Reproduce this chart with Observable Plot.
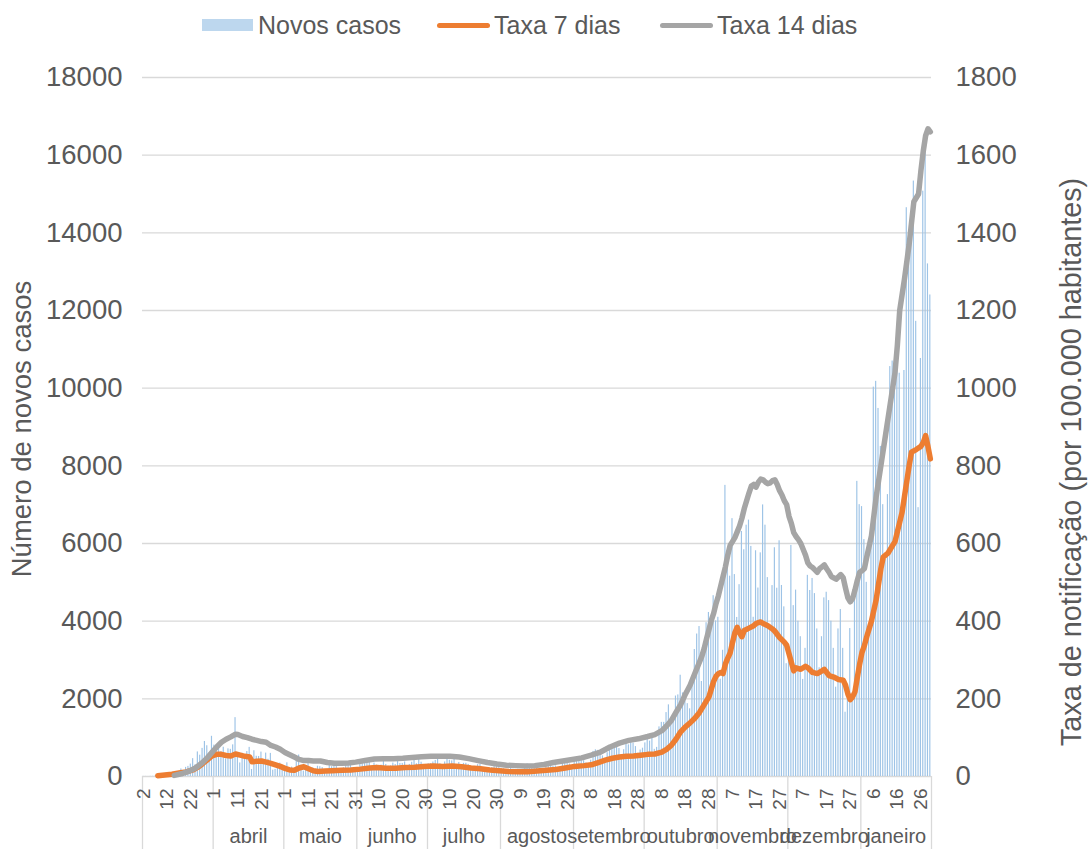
<!DOCTYPE html>
<html>
<head>
<meta charset="utf-8">
<script src="https://cdn.jsdelivr.net/npm/d3@7"></script>
<script src="https://cdn.jsdelivr.net/npm/@observablehq/plot@0.6"></script>
<style>
  html, body { margin: 0; padding: 0; background: #fff; }
  #wrap { position: relative; width: 1089px; height: 849px; overflow: hidden; font-family: 'Liberation Sans', Arial, sans-serif; color: #595959; }
  #legend { position: relative; width: 1089px; height: 50px; }
  .lg-item { position: absolute; top: 0; height: 50px; display: flex; align-items: center; font-size: 25px; white-space: nowrap; }
  .sw-rect { width: 51px; height: 12px; background: #bdd7ee; margin-right: 5px; }
  .sw-line { width: 53px; height: 5px; border-radius: 3px; margin-right: 4px; }
</style>
</head>
<body>
<div id="wrap">
  <div id="legend"></div>
  <div id="chart"></div>
</div>
<script>
// ---- Data ----
// Daily new cases, 2 March 2020 .. 30 January 2021
const casesMar = [2,2,1,4,4,8,9,9,11,18,19,34,57,76,86,117,194,143,235,260,320,460,302,633,549,724,902,792,446,1035];
const casesApr = [808,783,852,638,754,452,712,699,815,1516,598,349,598,514,643,750,181,663,521,516,629,371,603,444,595,163,183,295,345,235];
const casesMai = [181,352,92,242,171,533,553,295,138,226,349,160,219,187,264,252,230,117,149,295,252,288,271,163,205,227,304,350,296,195,200];
const casesJun = [193,366,350,331,377,382,192,346,294,282,294,421,310,264,272,346,308,417,336,337,375,259,311,367,451,328,457,368,266,311];
const casesJul = [328,329,374,413,443,328,285,375,444,418,402,443,232,361,304,339,340,312,225,194,252,305,311,227,209,135,88,232,297,278,233];
const casesAgo = [204,197,106,140,213,187,182,186,135,109,203,325,278,290,228,253,120,165,158,320,259,301,259,273,212,254,396,402,362,322,256];
const casesSet = [360,400,395,420,405,350,240,420,646,687,673,620,530,390,613,770,780,830,760,720,560,690,899,815,880,860,770,600,681,729];
const casesOut = [865,963,911,1090,700,750,1278,1394,1394,1646,1845,1445,1549,2072,2101,2608,2153,1949,1876,1743,2535,3270,3669,3862,2447,3162,3960,4224,4085,4656,4007];
const casesNov = [4100,2506,3250,7497,5550,5159,6640,5200,4096,4940,6310,5839,6472,6602,5925,4100,5813,4853,5759,6994,6472,5122,3817,4916,5891,4849,6070,4919,4369,2905];
const casesDez = [3300,5950,4400,4800,4000,3600,2500,3300,5180,4790,5100,4710,3800,2800,3600,4600,4745,4530,4000,3300,2300,3800,4300,3300,1655,2300,3810,2000,4900,7600,7000];
const casesJan = [6950,6100,5000,3850,6500,10027,10176,9478,8500,7000,5600,7259,10556,10698,10663,10947,10385,6702,10455,14647,13544,13987,15333,11721,6923,10765,15073,16432,13200,12400];

// Notification rates per 100 000 inhabitants (day offset from 2 March 2020 -> value)
const rate7Day = [6,9,12,15,18,21,23,25,27,29,31,33,35,37,39,41,43,45,46,48,50,52,54,56,58,60,62,64,66,68,70,72,74,77,80,84,88,92,96,99,103,107,111,115,119,123,127,131,135,139,143,147,151,155,159,163,167,171,175,179,183,187,190,193,196,199,202,205,208,211,214,217,220,222,224,226,228,230,232,234,236,238,240,241,242,243,244,245,246,247,248,249,250,251,252,253,254,255,257,259,260,261,262,263,265,267,268,270,272,273,274,276,277,279,281,282,284,286,288,289,291,293,295,297,298,299,300,301,302,303,304,305,306,307,309,311,313,314,316,318,319,320,322,323,325,326,328,330,331,332,333,334];
const rate7 = [2,4,6,9,12,17,24,33,43,53,57,57,54,53,58,55,52,50,38,39,40,37,34,30,26,21,17,16,22,25,20,15,13,14,15,16,17,19,22,23,21,21,23,24,26,27,26,27,25,22,20,17,15,13,12,12,14,16,18,22,26,28,30,36,42,47,50,52,53,55,57,58,63,70,80,96,115,128,138,150,165,185,205,225,245,258,265,268,265,290,305,318,345,370,384,370,360,376,382,388,394,396,398,394,388,380,374,358,346,338,316,272,280,276,284,280,268,265,272,276,260,256,250,248,235,212,198,205,218,255,290,320,337,360,400,455,535,565,575,595,605,630,680,720,800,835,842,850,860,878,850,818];
const rate14Day = [13,16,19,22,25,27,29,31,33,35,37,39,40,42,44,46,48,50,52,54,56,58,60,62,64,66,68,70,72,75,78,81,84,87,90,94,98,102,106,110,114,118,122,126,130,134,138,142,146,150,154,158,162,166,170,174,178,182,186,190,194,198,202,206,210,214,217,220,222,224,226,228,230,232,234,236,237,238,239,240,241,242,243,244,245,246,247,248,249,250,251,252,253,254,255,256,257,258,259,260,261,262,263,264,265,266,267,268,269,270,271,272,273,274,275,276,277,278,279,280,281,282,283,284,285,286,287,288,289,290,291,292,294,296,297,298,299,300,301,302,303,304,305,306,307,309,311,313,315,317,319,320,321,323,325,327,329,330,331,332,333,334];
const rate14 = [3,7,13,22,36,48,62,76,88,96,102,109,108,103,100,96,93,90,88,80,76,70,62,56,50,44,41,41,40,40,36,34,34,35,37,41,45,46,46,47,49,51,52,52,52,50,46,41,36,32,29,28,27,28,31,36,40,44,48,55,63,76,86,93,97,103,108,118,130,144,165,185,212,235,265,295,310,330,355,378,402,420,445,465,490,515,540,570,595,605,615,630,645,665,690,710,730,748,752,745,758,766,764,758,754,756,762,764,752,736,725,710,700,670,652,628,618,610,600,585,570,550,542,538,532,526,535,540,545,535,526,515,508,520,512,485,460,450,458,480,505,526,530,535,565,620,720,800,880,960,1040,1110,1200,1280,1370,1480,1500,1560,1610,1650,1668,1660];

const monthLabels = ["", "abril", "maio", "junho", "julho", "agosto", "setembro", "outubro", "novembro", "dezembro", "janeiro"];
const yTicks = [0,2000,4000,6000,8000,10000,12000,14000,16000,18000];
const seriesNames = ["Novos casos", "Taxa 7 dias", "Taxa 14 dias"];
const leftTitle = "Número de novos casos";
const rightTitle = "Taxa de notificação (por 100.000 habitantes)";

// ---- Build tables ----
const FONT = "'Liberation Sans', Arial, sans-serif";
const TEXT = "#595959";
const start = new Date(Date.UTC(2020, 2, 2));
const cases = [].concat(casesMar, casesApr, casesMai, casesJun, casesJul, casesAgo, casesSet, casesOut, casesNov, casesDez, casesJan);
const days = cases.map((c, i) => ({i, date: d3.utcDay.offset(start, i), cases: c}));
const n = days.length;
const r7 = rate7Day.map((d, k) => ({i: d, v: rate7[k]}));
const r14 = rate14Day.map((d, k) => ({i: d, v: rate14[k]}));
const dayTicks = days.filter(d => d.i % 10 === 0);
const monthStarts = [0, ...days.filter(d => d.i > 0 && d.date.getUTCDate() === 1).map(d => d.i), n];
const segments = monthStarts.slice(0, -1).map((s, k) => ({mid: (s + monthStarts[k + 1]) / 2, label: monthLabels[k]}));

// ---- Legend ----
const legend = document.getElementById("legend");
legend.innerHTML = `
  <div class="lg-item" style="left:202px"><div class="sw-rect"></div>${seriesNames[0]}</div>
  <div class="lg-item" style="left:437px"><div class="sw-line" style="background:#ED7D31"></div>${seriesNames[1]}</div>
  <div class="lg-item" style="left:660px"><div class="sw-line" style="background:#A5A5A5"></div>${seriesNames[2]}</div>`;

// ---- Chart ----
const chart = Plot.plot({
  width: 1089,
  height: 799,
  marginLeft: 142,
  marginRight: 158,
  marginTop: 27,
  marginBottom: 73,
  style: {fontFamily: FONT, color: TEXT, background: "#fff", overflow: "visible"},
  x: {type: "linear", domain: [0, n], axis: null},
  y: {domain: [0, 18000], axis: null},
  marks: [
    Plot.gridY(yTicks, {stroke: "#d9d9d9", strokeOpacity: 1, strokeWidth: 1.3}),
    Plot.rectY(days, {x1: "i", x2: d => d.i + 1, y: "cases", fill: "#9dc3e6", insetLeft: 0.6, insetRight: 0.6}),
    Plot.axisX(monthStarts, {tickSize: 73, tickFormat: () => "", stroke: "#d9d9d9", strokeWidth: 1.3}),
    Plot.text(dayTicks, {x: d => d.i + 0.5, frameAnchor: "bottom", text: d => String(d.date.getUTCDate()), rotate: -90, textAnchor: "end", lineAnchor: "middle", dy: 12, fontSize: 19, fill: TEXT}),
    Plot.text(segments, {x: "mid", frameAnchor: "bottom", text: "label", dy: 60, lineAnchor: "middle", fontSize: 20, fill: TEXT}),
    Plot.axisY(yTicks, {anchor: "left", tickSize: 0, tickPadding: 20, tickFormat: d => String(d), fontSize: 27.5, label: null}),
    Plot.axisY(yTicks, {anchor: "right", tickSize: 0, tickPadding: 24, tickFormat: d => String(d / 10), fontSize: 27.5, label: null}),
    Plot.text([leftTitle], {frameAnchor: "left", dx: -120, dy: 2, rotate: -90, textAnchor: "middle", lineAnchor: "middle", fontSize: 27.5, fill: TEXT}),
    Plot.text([rightTitle], {frameAnchor: "right", dx: 140, dy: 35, rotate: -90, textAnchor: "middle", lineAnchor: "middle", fontSize: 28.8, fill: TEXT}),
    Plot.line(r7, {x: d => d.i + 0.5, y: d => d.v * 10, stroke: "#ED7D31", strokeWidth: 5.5, strokeLinecap: "round", strokeLinejoin: "round"}),
    Plot.line(r14, {x: d => d.i + 0.5, y: d => d.v * 10, stroke: "#A5A5A5", strokeWidth: 5.5, strokeLinecap: "round", strokeLinejoin: "round"})
  ]
});
document.getElementById("chart").appendChild(chart);
</script>
</body>
</html>
